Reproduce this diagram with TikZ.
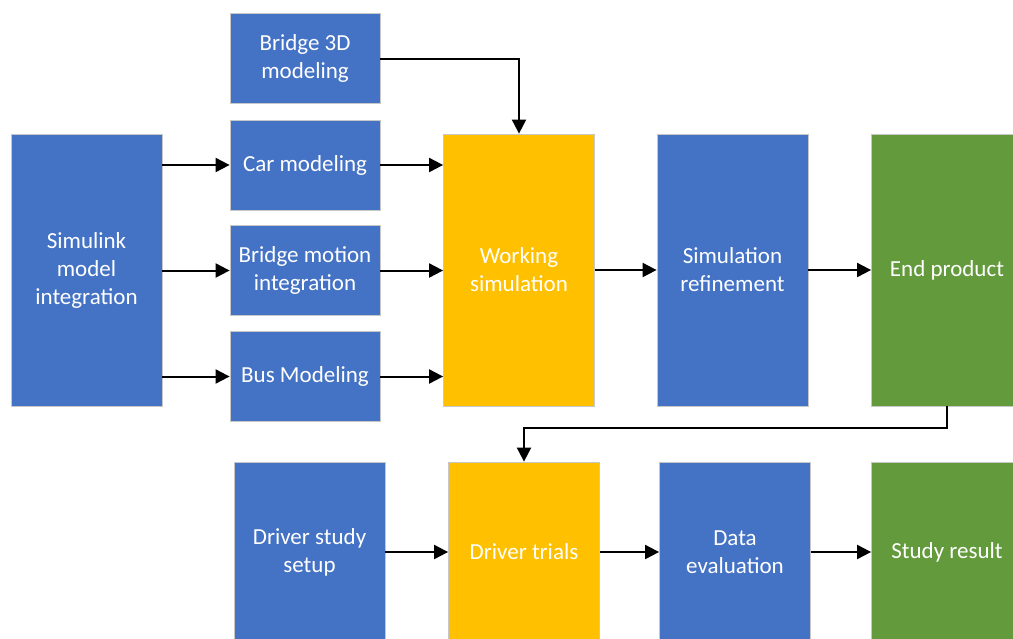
\documentclass[tikz,border=0pt]{standalone}
\usepackage{fontspec}
\setmainfont{Carlito}
\usetikzlibrary{arrows.meta}

\definecolor{boxblue}{HTML}{4472C4}
\definecolor{boxyellow}{HTML}{FFC000}
\definecolor{boxgreen}{HTML}{629A3C}

\tikzset{
  box/.style={rectangle, draw=black!22, line width=0.8pt, inner sep=0pt,
    text=white, align=center, font=\fontsize{23}{28}\selectfont},
  bluebox/.style={box, fill=boxblue},
  yellowbox/.style={box, fill=boxyellow},
  greenbox/.style={box, fill=boxgreen},
  tall/.style={minimum width=151pt, minimum height=272pt},
  small/.style={minimum width=150pt, minimum height=90pt},
  low/.style={minimum width=151pt, minimum height=180pt},
  flow/.style={line width=2pt, -{Triangle[length=14pt,width=14pt]}}
}

\begin{document}
\begin{tikzpicture}[x=1pt,y=1pt]
    \useasboundingbox (0,0) rectangle (1013,-638);

    % upper row
    \node[bluebox, tall] (sim) at (86.5,-270) {Simulink\\model\\integration};
    \node[bluebox, small] (b3d) at (305,-58.5) {Bridge 3D\\modeling};
    \node[bluebox, small] (car) at (305,-165) {Car modeling};
    \node[bluebox, small] (bmi) at (305,-270.5) {Bridge motion\\integration};
    \node[bluebox, small] (bus) at (305,-376.5) {Bus Modeling};
    \node[yellowbox, tall] (work) at (519,-270) {Working\\simulation};
    \node[bluebox, tall] (refine) at (732.5,-270) {Simulation\\refinement};
    \node[greenbox, tall] (endp) at (947,-270) {End product};

    % lower row
    \node[bluebox, low] (setup) at (309.5,-552) {Driver study\\setup};
    \node[yellowbox, low] (trials) at (524,-552) {Driver trials};
    \node[bluebox, low] (data) at (735,-552) {Data\\evaluation};
    \node[greenbox, low] (result) at (947,-552) {Study result};

    \coordinate (turn) at (947,-428);

    % connectors
    \draw[flow] (sim.east |- car) -- (car);
    \draw[flow] (sim.east |- bmi) -- (bmi);
    \draw[flow] (sim.east |- bus) -- (bus);
    \draw[flow] (car) -- (work.west |- car);
    \draw[flow] (bmi) -- (work.west |- bmi);
    \draw[flow] (bus) -- (work.west |- bus);
    \draw[flow] (b3d.east) -| (work.north);
    \draw[flow] (work) -- (refine);
    \draw[flow] (refine) -- (endp);
    \draw[flow] (endp.south) -- (turn) -| (trials.north);
    \draw[flow] (setup) -- (trials);
    \draw[flow] (trials) -- (data);
    \draw[flow] (data) -- (result);
\end{tikzpicture}
\end{document}
